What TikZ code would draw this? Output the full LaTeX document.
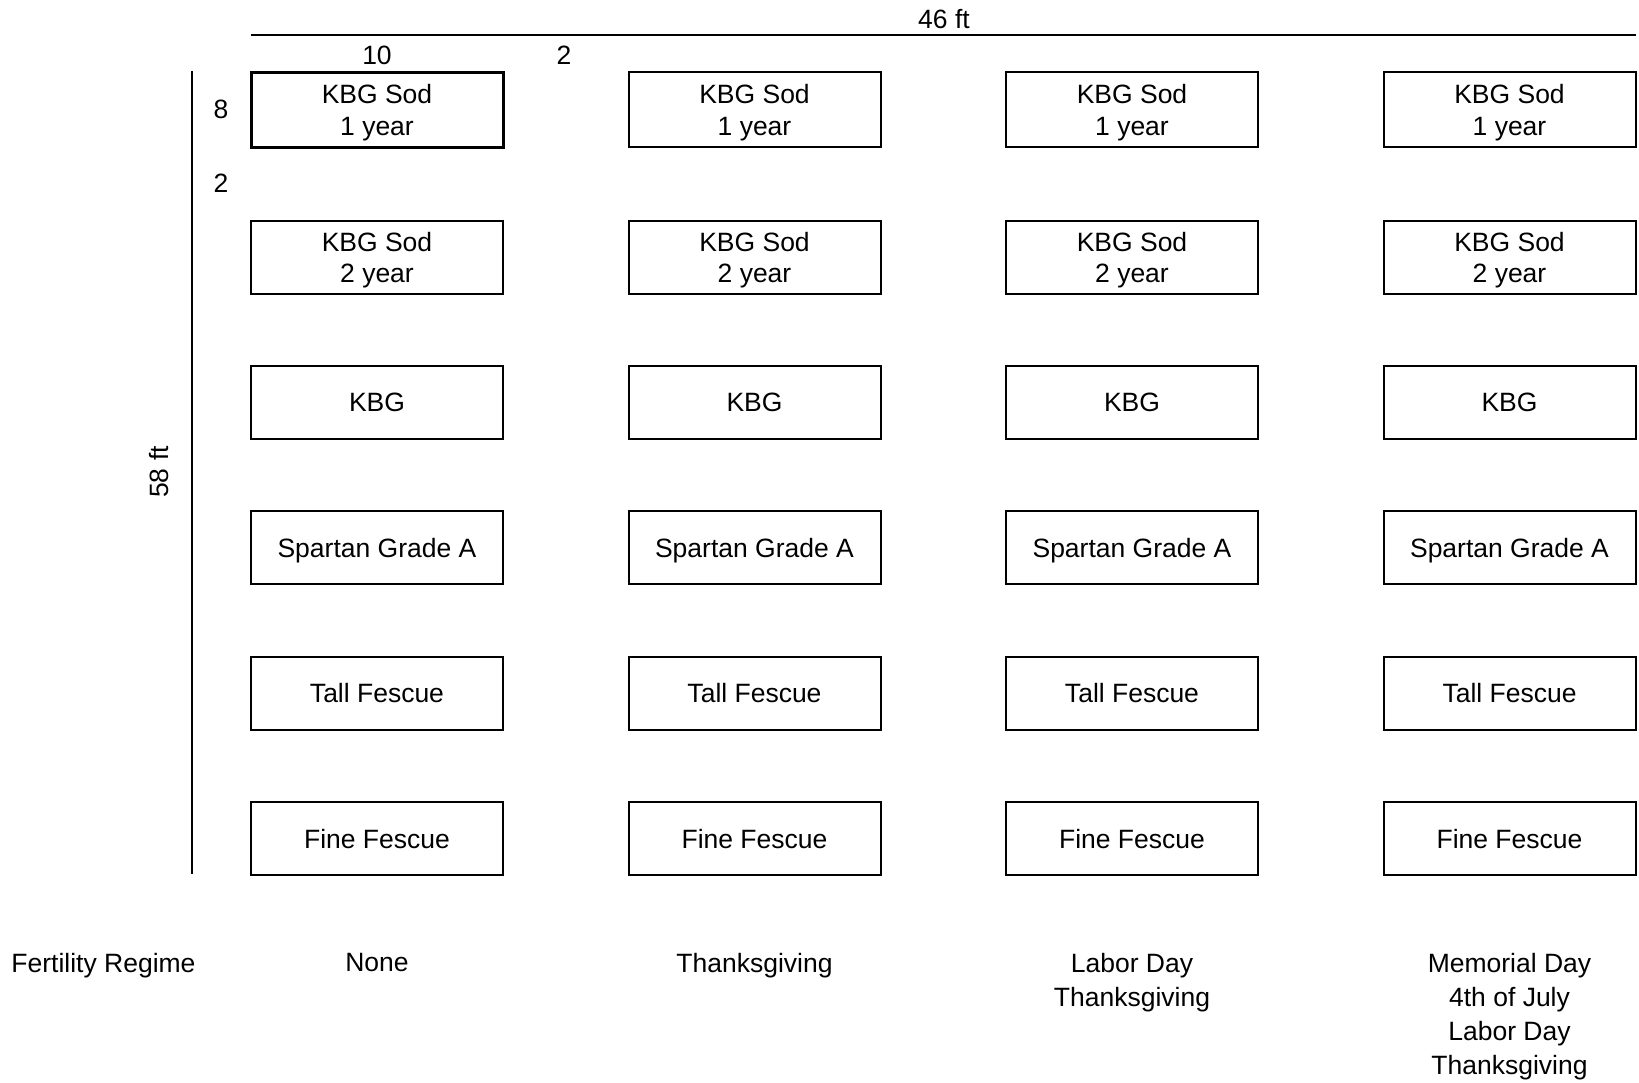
\documentclass[tikz,border=0pt]{standalone}
\usepackage{fontspec}
\setmainfont{Liberation Sans}
\tikzset{
  plotbox/.style={draw, inner sep=0pt, minimum width=252pt, align=center, text depth=0pt,
    font=\fontsize{26.5}{31.4}\selectfont},
  lbl/.style={inner sep=0pt, align=center, font=\fontsize{26.5}{33.8}\selectfont},
  dimline/.style={line width=2pt},
}
\begin{document}
\begin{tikzpicture}[x=1pt,y=-1pt]
\useasboundingbox[fill=white] (0,0) rectangle (1639,1083);
% dimension lines
\coordinate (tl) at (251,35.5);
\coordinate (tr) at (1636,35.5);
\draw[dimline] (tl) -- (tr);
\node[lbl] (w) at (944,19) {46 ft};
\node[lbl] (w10) at (377,55) {10};
\node[lbl] (w2) at (564,55) {2};
\coordinate (vt) at (192,71);
\coordinate (vb) at (192,874);
\draw[dimline] (vt) -- (vb);
\node[lbl, rotate=90] (h) at (159,472) {58 ft};
\node[lbl] (h8) at (221,109) {8};
\node[lbl] (h2) at (221,183) {2};
% plots
\foreach \cx [count=\c] in {377,754.5,1132,1509.5} {
  \foreach \cy/\t [count=\r] in {110/{KBG Sod\\1 year}, 257.5/{KBG Sod\\2 year}, 402.5/KBG, 547.5/Spartan Grade A, 693/Tall Fescue, 838.5/Fine Fescue} {
    \pgfmathsetmacro\lw{(\c==1 && \r==1) ? 3 : 2}
    \pgfmathsetmacro\mh{(\r==1) ? 75 : 73}
    \node[plotbox, line width=\lw pt, minimum height=\mh pt] (b\c-\r) at (\cx,\cy) {\t};
  }
}
% fertility regimes
\node[lbl, anchor=north] (fr) at (103.5,953.5) {Fertility Regime};
\node[lbl, anchor=north] (f1) at (377,953.5) {None};
\node[lbl, anchor=north] (f2) at (754.5,953.5) {Thanksgiving};
\node[lbl, anchor=north] (f3) at (1132,953.5) {Labor Day\\Thanksgiving};
\node[lbl, anchor=north] (f4) at (1509.5,953.5) {Memorial Day\\4th of July\\Labor Day\\Thanksgiving};
\end{tikzpicture}
\end{document}
